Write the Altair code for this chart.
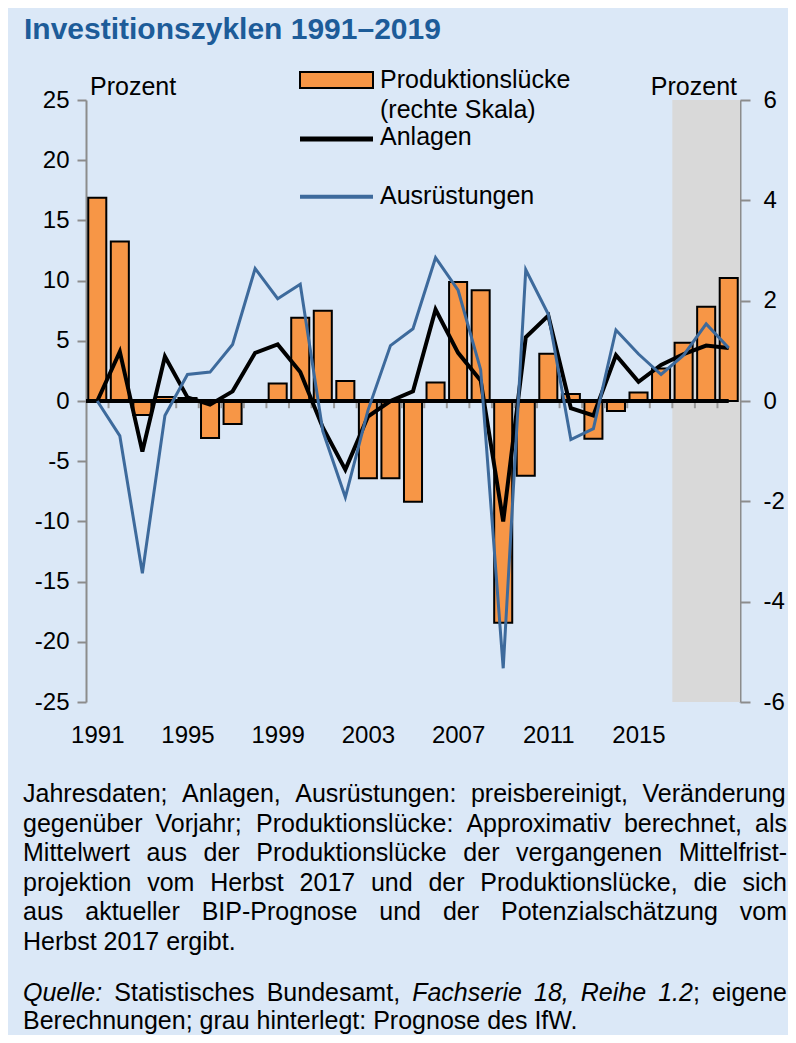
import altair as alt
import pandas as pd

# ---------------- data ----------------
years = list(range(1991, 2020))
luecke = [4.05, 3.18, -0.28, 0.08, 0.06, -0.74, -0.46, 0.0, 0.35, 1.66,
          1.80, 0.40, -1.54, -1.54, -2.01, 0.37, 2.37, 2.21, -4.42, -1.49,
          0.94, 0.14, -0.75, -0.20, 0.17, 0.65, 1.16, 1.88, 2.45]
anlagen = [0.0, 4.1, -4.2, 3.7, 0.3, -0.3, 0.8, 4.0, 4.7, 2.4,
           -2.2, -5.7, -1.3, 0.0, 0.8, 7.6, 4.0, 1.7, -10.0, 5.3,
           7.1, -0.6, -1.2, 3.8, 1.6, 3.0, 3.9, 4.6, 4.4]
ausruestungen = [0.0, -2.9, -14.3, -1.2, 2.2, 2.4, 4.7, 11.0, 8.5, 9.7,
                 -2.5, -8.0, -0.8, 4.6, 6.0, 11.9, 9.2, 2.6, -22.2, 10.9,
                 7.2, -3.2, -2.3, 5.9, 3.9, 2.2, 3.8, 6.4, 4.4]
x_labels = [1991, 1995, 1999, 2003, 2007, 2011, 2015]
left_ticks = [-25, -20, -15, -10, -5, 0, 5, 10, 15, 20, 25]
right_ticks = [-6, -4, -2, 0, 2, 4, 6]
forecast_years = [2017, 2018, 2019]

title_text = "Investitionszyklen 1991–2019"
legend_labels = ["Produktionslücke", "(rechte Skala)", "Anlagen", "Ausrüstungen"]
footnote_lines = [
    "Jahresdaten; Anlagen, Ausrüstungen: preisbereinigt, Veränderung",
    "gegenüber Vorjahr; Produktionslücke: Approximativ berechnet, als",
    "Mittelwert aus der Produktionslücke der vergangenen Mittelfrist-",
    "projektion vom Herbst 2017 und der Produktionslücke, die sich",
    "aus aktueller BIP-Prognose und der Potenzialschätzung vom",
    "Herbst 2017 ergibt.",
]
source_tokens = [
    [("Quelle:", "italic")], [("Statistisches", "normal")], [("Bundesamt,", "normal")],
    [("Fachserie", "italic")], [("18,", "italic")], [("Reihe", "italic")],
    [("1.2", "italic"), (";", "normal")], [("eigene", "normal")],
]
source_line2 = "Berechnungen; grau hinterlegt: Prognose des IfW."

# ---------------- styling ----------------
FONT = "Liberation Sans"
W, H = 654, 602
BG = "#dbe8f7"
ORANGE = "#f79646"
BLUE = "#3d6a9c"
GREY_AX = "#8c8c8c"
FS_NOTE = 25

# Arial / Liberation Sans advance widths (1/1000 em) for justified footnote layout
CW = {' ': 278, ',': 278, '.': 278, ':': 278, ';': 278, '-': 333, '(': 333, ')': 333,
      'A': 667, 'B': 667, 'C': 722, 'D': 722, 'E': 667, 'F': 611, 'G': 778, 'H': 722,
      'I': 278, 'J': 500, 'K': 667, 'L': 556, 'M': 833, 'N': 722, 'O': 778, 'P': 667,
      'Q': 778, 'R': 722, 'S': 667, 'T': 611, 'U': 722, 'V': 667, 'W': 944, 'X': 667,
      'Y': 667, 'Z': 611,
      'a': 556, 'b': 556, 'c': 500, 'd': 556, 'e': 556, 'f': 278, 'g': 556, 'h': 556,
      'i': 222, 'j': 222, 'k': 500, 'l': 222, 'm': 833, 'n': 556, 'o': 556, 'p': 556,
      'q': 556, 'r': 333, 's': 500, 't': 278, 'u': 556, 'v': 500, 'w': 722, 'x': 500,
      'y': 500, 'z': 500, 'ä': 556, 'ö': 556, 'ü': 556, 'ß': 611}


def text_width(s, fs):
    return sum(CW.get(ch, 556) for ch in s) * fs / 1000.0


def layout_line(tokens, y, justify, fs=FS_NOTE, left=-63.0, right=701.0):
    widths = [sum(text_width(t, fs) for t, _ in tok) for tok in tokens]
    if justify and len(tokens) > 1:
        gap = (right - left - sum(widths)) / (len(tokens) - 1)
    else:
        gap = CW[' '] * fs / 1000.0
    rows, x = [], left
    for tok, w in zip(tokens, widths):
        xx = x
        for t, st in tok:
            rows.append({"w": t, "px": xx, "py": y, "st": st})
            xx += text_width(t, fs)
        x += w + gap
    return rows


note_rows = []
for i, line in enumerate(footnote_lines):
    toks = [[(wd, "normal")] for wd in line.split(" ")]
    note_rows += layout_line(toks, 702 + i * 29.6, justify=(i < len(footnote_lines) - 1))
note_rows += layout_line(source_tokens, 900.5, justify=True)
note_rows += layout_line([[(wd, "normal")] for wd in source_line2.split(" ")], 928.5,
                         justify=False)
note_df = pd.DataFrame(note_rows)

df = pd.DataFrame({"year": years, "luecke": luecke,
                   "anlagen": anlagen, "ausr": ausruestungen})
shade_df = pd.DataFrame({"start": [forecast_years[0] - 0.5],
                         "end": [forecast_years[-1] + 0.5]})
tick_df = pd.DataFrame({"pos": [y + 0.5 for y in years[:-1]]})
zero_df = pd.DataFrame({"a": [years[0] - 0.5], "b": [years[-1]]})
dummy = pd.DataFrame({"d": [0]})

xscale = alt.Scale(domain=[years[0] - 0.5, years[-1] + 0.5], nice=False, zero=False)
xaxis = alt.Axis(values=x_labels, format="d", title=None, domain=False, ticks=False,
                 grid=False, labelFontSize=24, labelFont=FONT, labelColor="black",
                 labelPadding=21, labelFlush=False, labelOverlap=False)

left_scale = alt.Scale(domain=[-25, 25], nice=False, zero=False)
right_scale = alt.Scale(domain=[-6, 6], nice=False, zero=False)

left_axis = alt.Axis(orient="left", values=left_ticks, title=None, grid=False,
                     labelExpr="'' + datum.value",
                     domainColor=GREY_AX, domainWidth=2, tickColor=GREY_AX, tickWidth=2,
                     tickSize=9, labelPadding=8, labelFontSize=24, labelFont=FONT,
                     labelColor="black", labelFlush=False, labelOverlap=False)
right_axis = alt.Axis(orient="right", values=right_ticks, title=None, grid=False,
                      labelExpr="'' + datum.value",
                      domainColor=GREY_AX, domainWidth=2, tickColor=GREY_AX, tickWidth=2,
                      tickSize=10, labelPadding=13, labelFontSize=24, labelFont=FONT,
                      labelColor="black", labelFlush=False, labelOverlap=False)

# ---------------- layers ----------------
shade = alt.Chart(shade_df).mark_rect(color="#d9d9d9").encode(
    x=alt.X("start:Q", scale=xscale, axis=xaxis), x2="end:Q",
    y=alt.value(0), y2=alt.value(H))

bars = alt.Chart(df).transform_calculate(
    x0="datum.year - 0.4", x1="datum.year + 0.4"
).mark_bar(color=ORANGE, stroke="black", strokeWidth=2).encode(
    x=alt.X("x0:Q", scale=xscale, axis=xaxis), x2="x1:Q",
    y=alt.Y("luecke:Q", scale=right_scale, axis=right_axis),
    y2=alt.datum(0))

xticks = alt.Chart(tick_df).mark_rule(color="#9a9a9a", strokeWidth=2).encode(
    x=alt.X("pos:Q", scale=xscale, axis=xaxis),
    y=alt.datum(0, scale=left_scale, axis=left_axis), y2=alt.datum(-0.6))

zero_line = alt.Chart(zero_df).mark_rule(color="black", strokeWidth=4).encode(
    x=alt.X("a:Q", scale=xscale, axis=xaxis), x2="b:Q",
    y=alt.datum(0))

line_anl = alt.Chart(df).mark_line(color="black", strokeWidth=4).encode(
    x=alt.X("year:Q", scale=xscale, axis=xaxis),
    y=alt.Y("anlagen:Q"))

line_aus = alt.Chart(df).mark_line(color=BLUE, strokeWidth=3).encode(
    x=alt.X("year:Q", scale=xscale, axis=xaxis),
    y=alt.Y("ausr:Q"))

left_group = alt.layer(xticks, zero_line, line_anl, line_aus)


def txt(text, x, y, size=25, color="black", weight="normal", style="normal",
        align="left"):
    return alt.Chart(dummy).mark_text(
        text=text, align=align, baseline="alphabetic", fontSize=size, font=FONT,
        color=color, fontWeight=weight, fontStyle=style
    ).encode(x=alt.value(x), y=alt.value(y))


texts = [
    txt(title_text, -62, -61, size=30, color="#1d5c99", weight="bold"),
    txt("Prozent", 4, -5),
    txt("Prozent", 651, -5, align="right"),
    txt(legend_labels[0], 294, -12),
    txt(legend_labels[1], 294, 18),
    txt(legend_labels[2], 294, 45),
    txt(legend_labels[3], 294, 103.5),
]


def note_layer(style):
    return alt.Chart(note_df).transform_filter(
        alt.datum.st == style
    ).mark_text(align="left", baseline="alphabetic", fontSize=FS_NOTE, font=FONT,
                color="black", fontStyle=style).encode(
        x=alt.X("px:Q", scale=None, axis=None),
        y=alt.Y("py:Q", scale=None, axis=None),
        text="w:N")


legend_marks = [
    alt.Chart(dummy).mark_rect(color=ORANGE, stroke="black", strokeWidth=2).encode(
        x=alt.value(214), x2=alt.value(287), y=alt.value(-28), y2=alt.value(-12)),
    alt.Chart(dummy).mark_rule(color="black", strokeWidth=5).encode(
        x=alt.value(214), x2=alt.value(287), y=alt.value(39)),
    alt.Chart(dummy).mark_rule(color=BLUE, strokeWidth=4).encode(
        x=alt.value(214), x2=alt.value(287), y=alt.value(96.7)),
]

chart = alt.layer(shade, bars, left_group, *legend_marks, *texts,
                  note_layer("normal"), note_layer("italic")).resolve_scale(
    y="independent"
).properties(
    width=W, height=H, background=BG,
    autosize=alt.AutoSizeParams(type="none"),
    padding={"left": 78, "top": 92, "right": 48, "bottom": 333},
).configure_view(stroke=None).configure_axis(grid=False)

chart.save("out.html", embed_options={"renderer": "svg", "actions": False})
